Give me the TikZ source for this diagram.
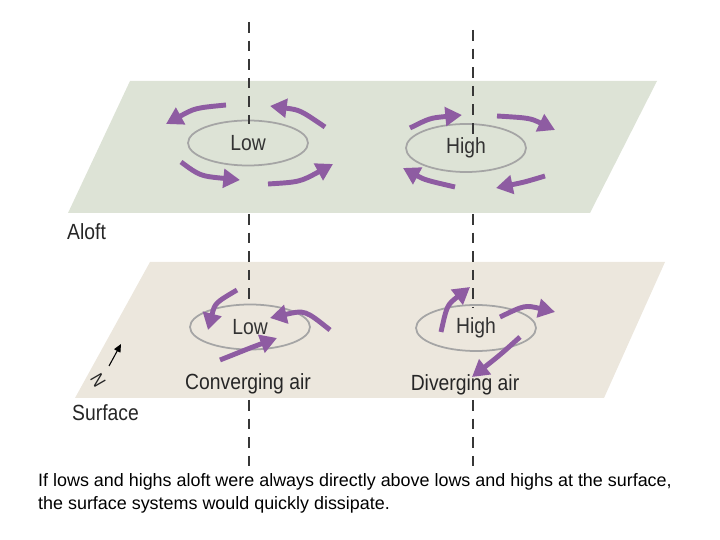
\documentclass[tikz,border=0pt]{standalone}
\usepackage{fontspec}
\setmainfont{Liberation Sans}
\newfontfamily\labelfont[FakeStretch=0.88]{Liberation Sans}
\usepackage{xcolor}
\usepackage{tikz}
\usetikzlibrary{positioning,arrows.meta,shapes.geometric}
\definecolor{aloftfill}{RGB}{221,227,214}
\definecolor{surffill}{RGB}{236,231,221}
\definecolor{flow}{RGB}{142,92,162}
\definecolor{rim}{RGB}{165,165,165}
\definecolor{axis}{RGB}{55,55,55}

\tikzset{
  plane/.style={draw=none},
  axisline/.style={draw=axis, line width=1.3pt, dash pattern=on 6pt off 4.6pt},
  cell/.style={ellipse, draw=rim, line width=1pt, minimum width=2.4cm,
               minimum height=0.9cm, font=\labelfont\fontsize{12.5}{14}\selectfont, text=black!80},
  wind/.style={draw=flow, line width=2.8pt, -{Triangle[length=9.5pt,width=10.5pt]}},
  lbl/.style={font=\labelfont\fontsize{12.5}{14}\selectfont, text=black!85}
}

\begin{document}
\begin{tikzpicture}[x=0.02cm,y=-0.02cm]
  \useasboundingbox (0,0) rectangle (720,540);

  % the two levels
  \fill[aloftfill] (130,81) -- (657,81) -- (590,213) -- (68,213) -- cycle;
  \fill[surffill] (150,262) -- (665,262) -- (604,398) -- (75,398) -- cycle;

  % centres of the pressure cells
  \node[cell] (lowup) at (248,143) {Low};
  \node[cell, minimum height=0.96cm] (highup) at (466,148) {High};
  \node[cell] (lowdn) at (250,327) {Low};
  \node[cell, minimum height=0.92cm] (highdn) at (476,328) {High};

  % vertical axes
  \coordinate (lowtop) at (249,22);
  \coordinate (hightop) at (473,30);
  \draw[axisline] (lowtop) -- (249,124);
  \draw[axisline] (hightop) -- (473,134);
  \draw[axisline] (249,214) -- (249,304);
  \draw[axisline] (473,214) -- (473,308);
  \draw[axisline] (249,400) -- (249,466);
  \draw[axisline] (473,400) -- (473,466);

  % aloft low
  \draw[wind] (226,105) .. controls (195,108) .. (166,124);
  \draw[wind] (325,127) .. controls (300,110) .. (270,106);
  \draw[wind] (181,162) .. controls (200,176) .. (240,180);
  \draw[wind] (268,184) .. controls (300,182) .. (333,164);
  % aloft high
  \draw[wind] (410,128) .. controls (430,118) .. (462,115);
  \draw[wind] (497,116) .. controls (530,118) .. (555,130);
  \draw[wind] (545,176) .. controls (525,182) .. (496,188);
  \draw[wind] (455,187) .. controls (425,180) .. (403,168);
  % surface low
  \draw[wind] (237,290) .. controls (215,303) .. (208,330);
  \draw[wind] (330,330) .. controls (305,310) .. (270,318);
  \draw[wind] (220,360) .. controls (250,348) .. (277,338);
  % surface high
  \draw[wind] (441,332) .. controls (447,305) .. (470,287);
  \draw[wind] (500,317) .. controls (525,305) .. (555,312);
  \draw[wind] (520,337) .. controls (500,355) .. (472,377);

  % labels
  \node[lbl, anchor=west] (aloft) at (61,232) {Aloft};
  \node[lbl, anchor=west] (surface) at (66,413) {Surface};
  \node[lbl] (conv) at (248,384) {Converging air};
  \node[lbl] (div) at (465,385) {Diverging air};

  % north arrow
  \coordinate (nbase) at (109,366);
  \coordinate (ntip) at (121,344);
  \draw[black, line width=0.6pt, -{Triangle[length=4.5pt,width=4pt]}] (nbase) -- (ntip);
  \node[lbl, rotate=-60, font=\labelfont\fontsize{10.5}{11}\selectfont] (north) at (98,380) {N};

  % caption
  \node[anchor=west, font=\fontsize{10.2}{13}\selectfont, align=left] (caption) at (32,493)
    {If lows and highs aloft were always directly above lows and highs at the surface,\\
     the surface systems would quickly dissipate.};
\end{tikzpicture}
\end{document}
